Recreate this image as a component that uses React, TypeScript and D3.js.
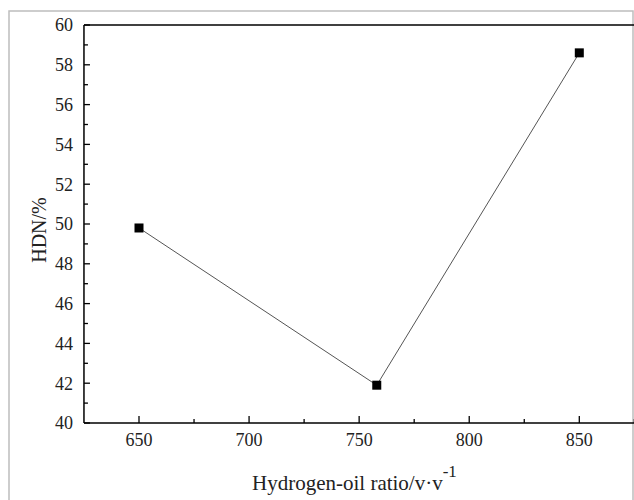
import React from "react";
import * as d3 from "d3";

const ratios = [650, 758, 850];
const hdn = [49.8, 41.9, 58.6];
const xTicks = [650, 700, 750, 800, 850];
const yTicks = [40, 42, 44, 46, 48, 50, 52, 54, 56, 58, 60];

const W = 634;
const H = 500;
const FONT = "Liberation Serif, Times New Roman, DejaVu Serif, serif";

export default function App() {
  const x = d3.scaleLinear().domain([650, 850]).range([139, 579.3]);
  const y = d3.scaleLinear().domain([40, 60]).range([423, 25]);
  const left = x(625);
  const right = x(885);
  const top = y(60);
  const bottom = y(40);
  const xMinor = d3.range(650, 880, 25).filter((v) => !xTicks.includes(v));
  const yMinor = d3.range(41, 60, 2);
  const line = d3
    .line<number>()
    .x((_, i) => x(ratios[i]))
    .y((d) => y(d));
  const ms = 9;
  return (
    <svg
      width={W}
      height={H}
      style={{ position: "fixed", left: 0, top: 0, background: "#fff", fontFamily: FONT }}
    >
      <rect x={9} y={11} width={624} height={520} fill="#fff" stroke="#bdbdbd" strokeWidth={1.5} />
      <path d={line(hdn) || ""} fill="none" stroke="#555" strokeWidth={1} />
      <line x1={left} x2={left} y1={top} y2={bottom} stroke="#000" strokeWidth={1.5} />
      <line x1={left} x2={right} y1={bottom} y2={bottom} stroke="#000" strokeWidth={1.5} />
      <line x1={left} x2={right} y1={top} y2={top} stroke="#000" strokeWidth={1.5} />
      {yTicks.map((t) => (
        <g key={"y" + t}>
          <line x1={left} x2={left + 6} y1={y(t)} y2={y(t)} stroke="#000" strokeWidth={1.3} />
          <text x={73} y={y(t)} dy="0.35em" textAnchor="end" fontSize={18} fill="#222" style={{ fontFamily: FONT }}>
            {t}
          </text>
        </g>
      ))}
      {yMinor.map((t) => (
        <line key={"ym" + t} x1={left} x2={left + 4} y1={y(t)} y2={y(t)} stroke="#000" strokeWidth={1.3} />
      ))}
      {xTicks.map((t) => (
        <g key={"x" + t}>
          <line x1={x(t)} x2={x(t)} y1={bottom} y2={bottom - 7} stroke="#000" strokeWidth={1.3} />
          <text x={x(t)} y={446} textAnchor="middle" fontSize={18} fill="#222" style={{ fontFamily: FONT }}>
            {t}
          </text>
        </g>
      ))}
      {xMinor.map((t) => (
        <line key={"xm" + t} x1={x(t)} x2={x(t)} y1={bottom} y2={bottom - 4} stroke="#000" strokeWidth={1.3} />
      ))}
      {hdn.map((v, i) => (
        <rect key={"m" + i} x={x(ratios[i]) - ms / 2} y={y(v) - ms / 2} width={ms} height={ms} fill="#000" />
      ))}
      <text
        transform={`translate(46, ${(top + bottom) / 2 + 6}) rotate(-90)`}
        textAnchor="middle"
        fontSize={20}
        fill="#222"
        style={{ fontFamily: FONT }}
      >
        HDN/%
      </text>
      <text x={252} y={490} fontSize={21} fill="#222" style={{ fontFamily: FONT }}>
        Hydrogen-oil ratio/v·v
        <tspan dy={-13} fontSize={17}>-1</tspan>
      </text>
    </svg>
  );
}
